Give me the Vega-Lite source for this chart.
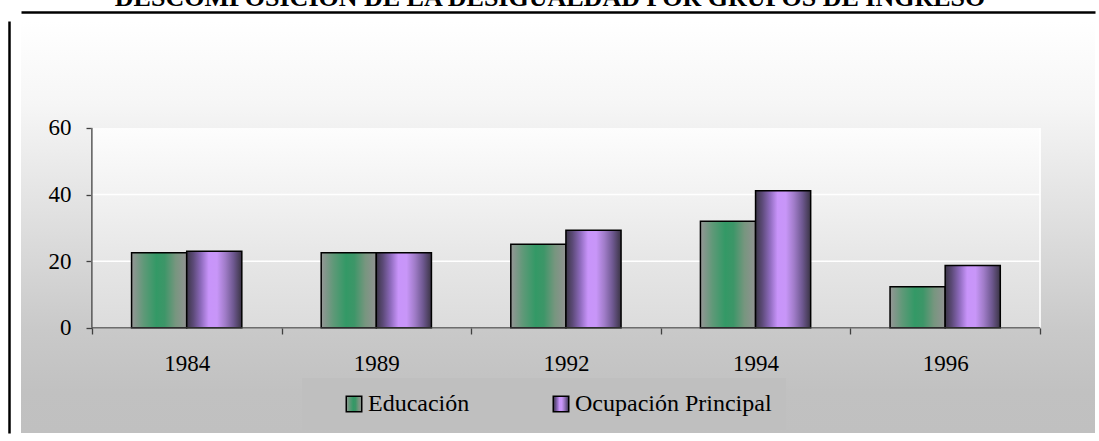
{
  "$schema": "https://vega.github.io/schema/vega-lite/v6.json",
  "width": 1074,
  "height": 412,
  "autosize": {"type": "none"},
  "padding": {"left": 21, "top": 21, "right": 4, "bottom": 8},
  "background": "white",
  "view": {
    "stroke": null,
    "fill": {"gradient": "linear", "x1": 0, "y1": 0, "x2": 0, "y2": 1,
      "stops": [
        {"offset": 0, "color": "#ffffff"},
        {"offset": 0.2, "color": "#f6f6f6"},
        {"offset": 0.45, "color": "#e2e2e2"},
        {"offset": 0.75, "color": "#c9c9c9"},
        {"offset": 0.9, "color": "#c1c1c1"},
        {"offset": 1, "color": "#c0c0c0"}
      ]}
  },
  "title": {
    "text": "DESCOMPOSICIÓN DE LA DESIGUALDAD POR GRUPOS DE INGRESO",
    "font": "Liberation Serif",
    "fontSize": 26,
    "fontWeight": "bold",
    "color": "black",
    "anchor": "middle",
    "frame": "group",
    "baseline": "alphabetic",
    "offset": 0,
    "dy": 20,
    "dx": -8
  },
  "data": {
    "values": [
      {"year": "1984", "serie": "Educación", "value": 22.5},
      {"year": "1984", "serie": "Ocupación Principal", "value": 23.0},
      {"year": "1989", "serie": "Educación", "value": 22.5},
      {"year": "1989", "serie": "Ocupación Principal", "value": 22.5},
      {"year": "1992", "serie": "Educación", "value": 25.1},
      {"year": "1992", "serie": "Ocupación Principal", "value": 29.3},
      {"year": "1994", "serie": "Educación", "value": 32.0},
      {"year": "1994", "serie": "Ocupación Principal", "value": 41.1},
      {"year": "1996", "serie": "Educación", "value": 12.3},
      {"year": "1996", "serie": "Ocupación Principal", "value": 18.7}
    ]
  },
  "layer": [
    {
      "transform": [{"filter": "datum.serie == 'Educación'"}],
      "mark": {"type": "rect", "width": {"band": 1.01},
        "fill": {"gradient": "linear", "x1": 0, "y1": 0, "x2": 0, "y2": 1,
          "stops": [
            {"offset": 0, "color": "#fdfdfd"},
            {"offset": 0.33, "color": "#f2f2f2"},
            {"offset": 0.66, "color": "#e6e6e6"},
            {"offset": 1, "color": "#dcdcdc"}
          ]}},
      "encoding": {
        "x": {"field": "year", "type": "nominal",
          "scale": {"paddingInner": 0, "paddingOuter": 0.332, "align": 0.563},
          "axis": {"orient": "top", "offset": 9, "title": null, "labels": false, "ticks": false, "grid": false,
            "domain": true, "domainColor": "black", "domainWidth": 2.5}},
        "y": {"datum": 0, "type": "quantitative",
          "scale": {"domain": [-31.6, 92.1], "nice": false, "zero": false},
          "axis": {"orient": "left", "offset": 12, "title": null, "labels": false, "ticks": false, "grid": false,
            "domain": true, "domainColor": "black", "domainWidth": 2.5}},
        "y2": {"datum": 60}
      }
    },
    {
      "transform": [{"filter": "datum.serie == 'Educación'"}],
      "mark": {"type": "tick", "orient": "horizontal", "size": 190, "thickness": 1.5, "color": "white", "opacity": 1},
      "encoding": {
        "x": {"field": "year", "type": "nominal", "axis": null},
        "y": {"datum": 20, "type": "quantitative", "axis": null}
      }
    },
    {
      "transform": [{"filter": "datum.serie == 'Educación'"}],
      "mark": {"type": "tick", "orient": "horizontal", "size": 190, "thickness": 1.5, "color": "white", "opacity": 1},
      "encoding": {
        "x": {"field": "year", "type": "nominal", "axis": null},
        "y": {"datum": 40, "type": "quantitative", "axis": null}
      }
    },
    {
      "transform": [{"filter": "datum.serie == 'Educación' && datum.year == '1996'"}],
      "mark": {"type": "rule", "color": "white", "strokeWidth": 1.5},
      "encoding": {
        "x": {"field": "year", "type": "nominal", "bandPosition": 1, "axis": null},
        "y": {"datum": 0, "type": "quantitative", "axis": null},
        "y2": {"datum": 60}
      }
    },
    {
      "mark": {"type": "bar", "stroke": "black", "strokeWidth": 1.5},
      "encoding": {
        "x": {"field": "year", "type": "nominal",
          "axis": {"orient": "bottom", "offset": -105, "title": null, "domain": false, "grid": false,
            "tickBand": "extent", "tickSize": 6, "tickColor": "#404040", "tickWidth": 1.3,
            "labelFont": "Liberation Serif", "labelFontSize": 23, "labelColor": "black",
            "labelPadding": 18, "labelAngle": 0}},
        "xOffset": {"field": "serie", "type": "nominal",
          "scale": {"domain": ["Educación", "Ocupación Principal"], "paddingInner": 0, "paddingOuter": 0.72}},
        "y": {"field": "value", "type": "quantitative",
          "axis": {"orient": "left", "offset": -71, "values": [0, 20, 40, 60], "title": null, "domain": false, "grid": false,
            "tickSize": 6, "tickColor": "#404040", "tickWidth": 1.3,
            "labelFont": "Liberation Serif", "labelFontSize": 23, "labelColor": "black", "labelPadding": 15}},
        "color": {"field": "serie", "type": "nominal",
          "scale": {"domain": ["Educación", "Ocupación Principal"],
            "range": [
              {"expr": "{gradient: 'linear', x1: 0, y1: 0, x2: 1, y2: 0, stops: [{offset: 0, color: '#969696'}, {offset: 0.22, color: '#5f9978'}, {offset: 0.45, color: '#339966'}, {offset: 0.6, color: '#3d9668'}, {offset: 0.8, color: '#77967f'}, {offset: 1, color: '#929292'}]}"},
              {"expr": "{gradient: 'linear', x1: 0, y1: 0, x2: 1, y2: 0, stops: [{offset: 0, color: '#3c3648'}, {offset: 0.12, color: '#5c4a78'}, {offset: 0.25, color: '#8a68b8'}, {offset: 0.4, color: '#c894fa'}, {offset: 0.55, color: '#c896f8'}, {offset: 0.7, color: '#a07cc8'}, {offset: 0.85, color: '#6e5890'}, {offset: 1, color: '#3a3444'}]}"}
            ]},
          "legend": {"orient": "none", "legendX": 281, "legendY": 357, "direction": "horizontal", "columns": 2,
            "title": null, "fillColor": "#bfbfbf", "padding": 14, "symbolType": "square", "symbolSize": 240,
            "symbolStrokeColor": "black", "symbolStrokeWidth": 1.5, "labelFont": "Liberation Serif",
            "labelFontSize": 24, "labelColor": "black", "labelOffset": 2, "columnPadding": 53,
            "symbolOffset": 26, "labelLimit": 400}}
      }
    },
    {
      "transform": [{"filter": "datum.serie == 'Educación'"}],
      "mark": {"type": "tick", "orient": "horizontal", "size": 190, "thickness": 1.3, "color": "#404040"},
      "encoding": {
        "x": {"field": "year", "type": "nominal", "axis": null},
        "y": {"datum": 0, "type": "quantitative", "axis": null}
      }
    },
    {
      "transform": [{"filter": "datum.serie == 'Educación' && datum.year == '1984'"}],
      "mark": {"type": "rule", "color": "#404040", "strokeWidth": 1.3},
      "encoding": {
        "x": {"field": "year", "type": "nominal", "bandPosition": 0, "axis": null},
        "y": {"datum": 0, "type": "quantitative", "axis": null},
        "y2": {"datum": 60}
      }
    }
  ],
  "resolve": {"axis": {"x": "independent", "y": "independent"}}
}
